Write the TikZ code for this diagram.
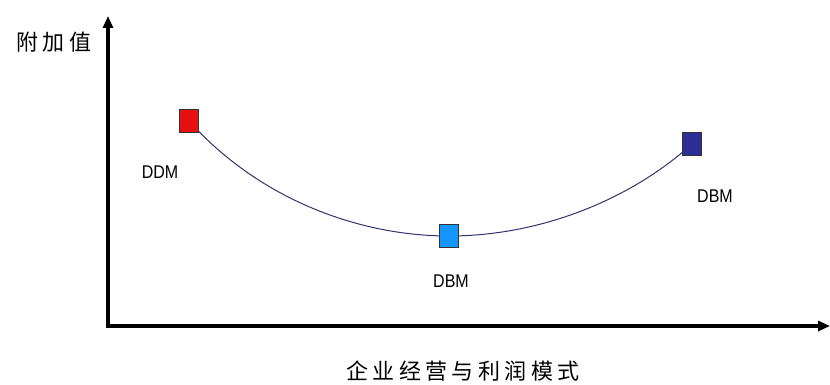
\documentclass[tikz,border=0pt]{standalone}
\usepackage{fontspec}
\setmainfont{Liberation Sans}
\newfontfamily\cjk[LetterSpace=20]{Noto Sans CJK SC}
\usetikzlibrary{arrows.meta}
\definecolor{sqred}{RGB}{230,16,16}
\definecolor{sqblue}{RGB}{20,150,255}
\definecolor{sqnavy}{RGB}{45,45,150}
\definecolor{curvec}{RGB}{50,50,110}
\tikzset{
  axis/.style={line width=3.2pt, -{Triangle[length=12pt,width=10pt]}},
  sq/.style={draw=black!80, line width=0.8pt, minimum width=19pt, minimum height=23pt, inner sep=0pt},
  lbl/.style={font=\fontsize{16}{16}\selectfont, inner sep=0pt, yscale=1.15},
  cjklbl/.style={font=\cjk\fontsize{22}{22}\selectfont, inner sep=0pt}
}
\begin{document}
\begin{tikzpicture}[x=1pt,y=-1pt]
\useasboundingbox (0,0) rectangle (830,385);
\coordinate (o) at (108,326);
\coordinate (ytip) at (108,16);
\coordinate (xtip) at (830,326);
\draw[axis] ([yshift=-1.6pt]o) -- (ytip);
\draw[axis] ([xshift=-1.6pt]o) -- (xtip);
\node[cjklbl] (ylab) at (54,42) {附加值};
\node[cjklbl] (xlab) at (463,371) {企业经营与利润模式};
\coordinate (r) at (189,121);
\coordinate (b) at (449,236);
\coordinate (n) at (692,144);
\draw[curvec, line width=1pt] (r) .. controls (260,200) and (360,236) .. (b)
   .. controls (540,236) and (630,200) .. (n);
\node[sq, fill=sqred] (red) at (r) {};
\node[sq, fill=sqblue] (blue) at (b) {};
\node[sq, fill=sqnavy] (navy) at (n) {};
\node[lbl] (l1) at (160,172) {DDM};
\node[lbl] (l2) at (451,281) {DBM};
\node[lbl] (l3) at (715,196) {DBM};
\end{tikzpicture}
\end{document}
